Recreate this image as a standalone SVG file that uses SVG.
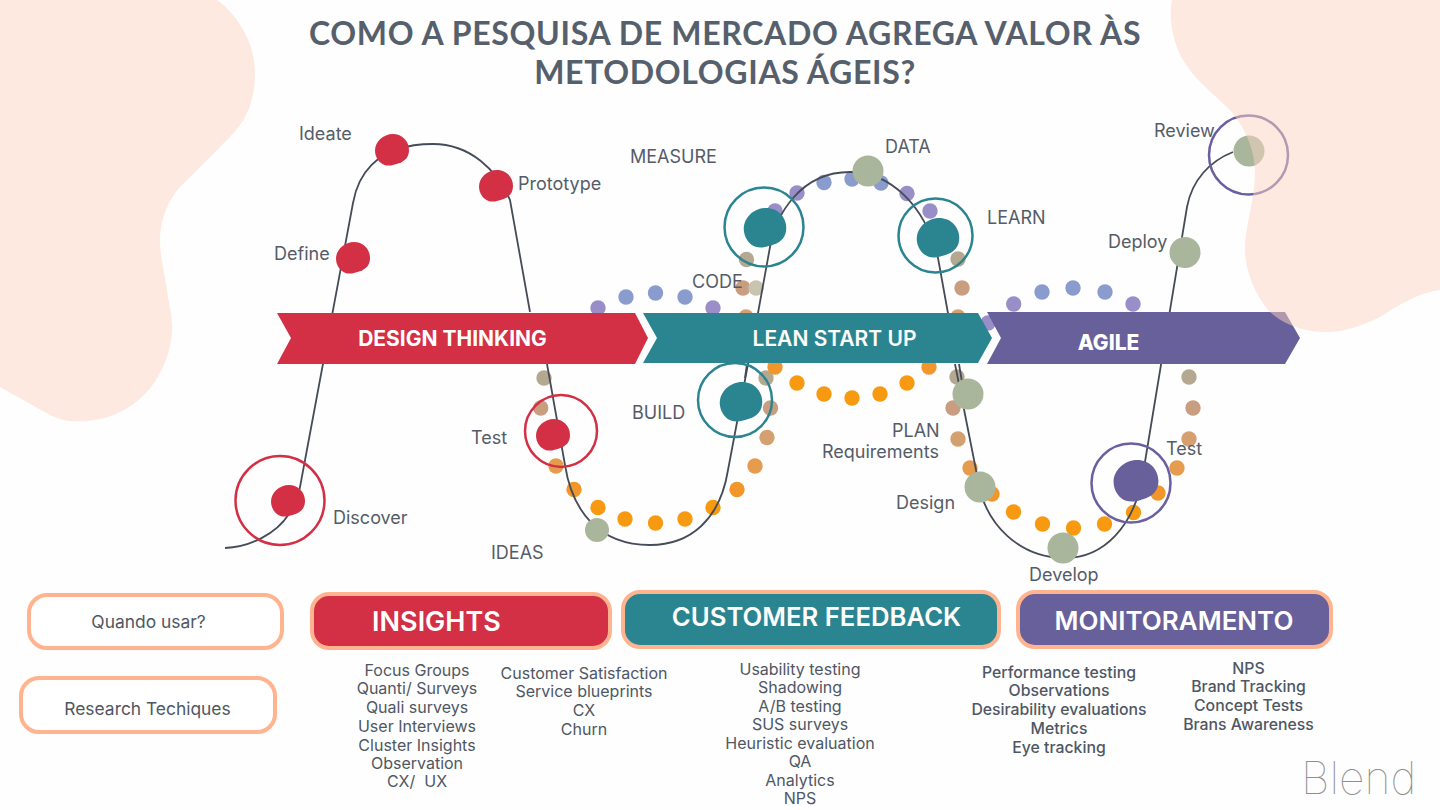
<svg xmlns="http://www.w3.org/2000/svg" width="1440" height="810" viewBox="0 0 1440 810">
<style>
.lb{font:400 18px Inter,"Liberation Sans",sans-serif;fill:#555c68}
.ls{font:400 16px Inter,"Liberation Sans",sans-serif;fill:#4f5763;text-anchor:middle}
.m5{font-weight:500;font-size:15.8px}
.ttl{font:700 32px Lato,"Liberation Sans",sans-serif;fill:#56606c;text-anchor:middle;letter-spacing:.67px}
.ar{font:700 21px Inter,"Liberation Sans",sans-serif;fill:#fff;text-anchor:middle}
.bt{font:600 26px Inter,"Liberation Sans",sans-serif;fill:#fff;text-anchor:middle}
.box{stroke:#ffb48f;stroke-width:4}
.red{fill:#d32f45}.teal{fill:#2b8590}.pur{fill:#67609b}.grn{fill:#a9b69c}
.ring{fill:none;stroke-width:2.5}
.curve{fill:none;stroke:#454c58;stroke-width:1.8}
.d1{fill:#f79a12}.d2{fill:#f0962a}.d3{fill:#e59c4f}.d4{fill:#d4a070}.d5{fill:#c99e80}.d6{fill:#b5a890}.d7{fill:#8a9bcd}.d8{fill:#9a8ec8}.d9{fill:#c8c4b0}
.blob{fill:#fbd3c1;fill-opacity:.5}
</style>
<defs>
<path id="blb" d="M1,-16C10,-16 17,-9 17,0C17,7 13,11 7.5,13C2,15 -3,16.5 -7.5,15C-13,13 -17,7 -17,0.5C-17,-8 -9,-16 1,-16Z"/>
<circle id="dot" r="7.7"/>
</defs>
<rect width="1440" height="810" fill="#fefefe"/>
<path class="blob" d="M0,0H217C240,17 255,45 255,73C255,95 249,113 240,125C232,135 227,140 220,147L180,187C168,200 160,220 160,240C160,258 165,275 167,290C169,305 172,315 172,327C172,345 167,360 160,373C150,392 135,405 120,412C105,420 85,422 70,421C60,420 50,415 43,411L0,387Z"/>
<g id="dots">
<use href="#dot" class="d3" x="556" y="466"/><use href="#dot" class="d2" x="574" y="489.5"/><use href="#dot" class="d1" x="598" y="507.5"/><use href="#dot" class="d1" x="625" y="519"/><use href="#dot" class="d1" x="655.5" y="523"/><use href="#dot" class="d1" x="685" y="519"/><use href="#dot" class="d1" x="713" y="507.5"/><use href="#dot" class="d2" x="737" y="489.5"/><use href="#dot" class="d3" x="755" y="466"/><use href="#dot" class="d4" x="767" y="437.5"/><use href="#dot" class="d5" x="770.5" y="408"/><use href="#dot" class="d6" x="766" y="378"/>
<use href="#dot" class="d6" x="544" y="378"/><use href="#dot" class="d5" x="540.7" y="408"/>
<use href="#dot" class="d2" x="775" y="367"/><use href="#dot" class="d1" x="797" y="383"/><use href="#dot" class="d1" x="824" y="394"/><use href="#dot" class="d1" x="852" y="398"/><use href="#dot" class="d1" x="880" y="394"/><use href="#dot" class="d1" x="907" y="383"/><use href="#dot" class="d2" x="929" y="367"/>
<use href="#dot" class="d6" x="957" y="377"/><use href="#dot" class="d5" x="953" y="408"/><use href="#dot" class="d4" x="958" y="439"/><use href="#dot" class="d3" x="970" y="468"/><use href="#dot" class="d2" x="992" y="494"/><use href="#dot" class="d1" x="1013.5" y="512"/><use href="#dot" class="d1" x="1042.5" y="524"/><use href="#dot" class="d1" x="1073.5" y="528"/><use href="#dot" class="d1" x="1104.5" y="524"/><use href="#dot" class="d1" x="1133.5" y="512.5"/><use href="#dot" class="d2" x="1158" y="493"/><use href="#dot" class="d3" x="1177" y="468"/><use href="#dot" class="d4" x="1189" y="439"/><use href="#dot" class="d5" x="1193" y="408"/><use href="#dot" class="d6" x="1189" y="377"/>
<use href="#dot" class="d6" x="746.5" y="259.5"/><use href="#dot" class="d5" x="743" y="288"/><use href="#dot" class="d9" x="756" y="288"/><use href="#dot" class="d4" x="746" y="317"/>
<use href="#dot" class="d6" x="958" y="259"/><use href="#dot" class="d5" x="962" y="288"/><use href="#dot" class="d4" x="958" y="317"/>
<use href="#dot" class="d8" x="598" y="308"/><use href="#dot" class="d7" x="626" y="297"/><use href="#dot" class="d7" x="655.5" y="293"/><use href="#dot" class="d7" x="685" y="297"/><use href="#dot" class="d8" x="713" y="308"/>
<use href="#dot" class="d8" x="775" y="211"/><use href="#dot" class="d8" x="797" y="193"/><use href="#dot" class="d7" x="824" y="182.5"/><use href="#dot" class="d7" x="852" y="179"/><use href="#dot" class="d7" x="881" y="183"/><use href="#dot" class="d8" x="907" y="193.5"/><use href="#dot" class="d8" x="930" y="211"/>
<use href="#dot" class="d8" x="988" y="323"/><use href="#dot" class="d8" x="1013.7" y="304"/><use href="#dot" class="d7" x="1042" y="292"/><use href="#dot" class="d7" x="1073" y="288"/><use href="#dot" class="d7" x="1105" y="292"/><use href="#dot" class="d8" x="1133" y="304"/>
</g>
<g id="connectors">
<path class="curve" d="M225,548C250,547 276,534 289,514C295,505 298,497 300,487L353,203C357,180 372,144 433,144C470,144 497,170 510,200L530,312"/>
<path class="curve" d="M547,364L565,465C572,510 598,545 650,545C690,545 720,520 728,470L748,364L758,313L770,247C776,215 800,172 850,172C890,172 925,205 938,258L957,363"/>
<path class="curve" d="M955,364L978,480C985,525 1020,558 1065,558C1105,558 1133,525 1142,480L1187,207C1192,180 1210,161 1233,152"/>
<path class="curve" d="M959,364L962,382"/>
<path class="curve" stroke-width="3" d="M747,364L745,378"/>
</g>
<g id="arrow-design-thinking"><polygon class="red" points="277,313 635,313 648,338 635,364 277,364 291,338"/><text class="ar" x="452.5" y="346">DESIGN THINKING</text></g>
<g id="arrow-lean-start-up"><polygon class="teal" points="643,313 978,313 992,338 978,363 643,363 657,338"/><text class="ar" x="834.5" y="346" style="font-weight:600">LEAN START UP</text></g>
<g id="arrow-agile"><polygon class="pur" points="987,312 1285,312 1300,338 1285,364 987,364 1001,338"/><text class="ar" x="1108.5" y="350" style="font-weight:800">AGILE</text></g>
<g id="title"><text class="ttl" x="725" y="45">COMO A PESQUISA DE MERCADO AGREGA VALOR ÀS</text><text class="ttl" x="725" y="84">METODOLOGIAS ÁGEIS?</text></g>
<g id="discover"><circle class="ring" stroke="#d32f45" cx="280" cy="500.5" r="44.5"/><use href="#blb" class="red" x="288" y="501"/><text class="lb" x="333" y="524">Discover</text></g>
<g id="define"><use href="#blb" class="red" x="353" y="258"/><text class="lb" x="274" y="260">Define</text></g>
<g id="ideate"><use href="#blb" class="red" x="392" y="150"/><text class="lb" x="299" y="140">Ideate</text></g>
<g id="prototype"><use href="#blb" class="red" x="496" y="186"/><text class="lb" x="518" y="190">Prototype</text></g>
<g id="test-dt"><circle class="ring" stroke="#d32f45" cx="561" cy="431" r="36"/><use href="#blb" class="red" x="553" y="435"/><text class="lb" x="471" y="444">Test</text></g>
<g id="ideas"><circle class="grn" cx="597" cy="530" r="12"/><text class="lb" x="491" y="559">IDEAS</text></g>
<g id="build"><circle class="ring" stroke="#2b8590" cx="735" cy="400" r="37"/><use href="#blb" class="teal" transform="translate(741,402) scale(1.25)"/><text class="lb" x="632" y="419">BUILD</text></g>
<g id="code"><text class="lb" x="692" y="288">CODE</text></g>
<g id="measure"><circle class="ring" stroke="#2b8590" cx="764" cy="227" r="39.5"/><use href="#blb" class="teal" transform="translate(765,228) scale(1.25)"/><text class="lb" x="630" y="163">MEASURE</text></g>
<g id="data"><circle class="grn" cx="868" cy="171" r="15.5"/><text class="lb" x="885" y="153">DATA</text></g>
<g id="learn"><circle class="ring" stroke="#2b8590" cx="935.5" cy="235.5" r="37"/><use href="#blb" class="teal" transform="translate(938,238) scale(1.25)"/><text class="lb" x="987" y="224">LEARN</text></g>
<g id="plan"><circle class="grn" cx="968" cy="394" r="15.5"/><text class="lb" x="892" y="437">PLAN</text><text class="lb" x="822" y="458">Requirements</text></g>
<g id="design"><circle class="grn" cx="980" cy="487" r="15.5"/><text class="lb" x="896" y="509">Design</text></g>
<g id="develop"><circle class="grn" cx="1063" cy="548" r="15.5"/><text class="lb" x="1029" y="581">Develop</text></g>
<g id="test-agile"><circle class="ring" stroke="#6a5fa0" cx="1131" cy="483" r="39.5"/><use href="#blb" class="pur" transform="translate(1136,481) scale(1.32)"/><text class="lb" x="1166" y="455">Test</text></g>
<g id="deploy"><circle class="grn" cx="1185" cy="252.5" r="15.5"/><text class="lb" x="1108" y="248">Deploy</text></g>
<g id="review"><circle class="ring" stroke="#6a5fa0" cx="1248.5" cy="155" r="39.5"/><circle class="grn" cx="1249" cy="151" r="15.5"/><text class="lb" x="1154" y="137">Review</text></g>
<path class="blob" d="M1172,0H1440V290C1420,292 1400,304 1380,317C1360,327 1340,333 1323,332C1300,331 1282,323 1270,312C1255,295 1245,270 1245,250C1245,225 1255,200 1255,173C1255,150 1245,127 1230,110C1215,95 1195,80 1183,60C1174,45 1168,20 1172,0Z"/>
<g id="quando"><rect class="box" x="29" y="595" width="253" height="53" rx="18" fill="#fff"/><text x="148.5" y="627.5" class="ls" style="font-size:17.4px">Quando usar?</text></g>
<g id="research"><rect class="box" x="21" y="678" width="254" height="54" rx="18" fill="#fff"/><text x="147.5" y="714.5" class="ls" style="font-size:17.4px">Research Techiques</text></g>
<g id="insights"><rect class="box red" x="312" y="594" width="298" height="54" rx="17"/><text class="bt" x="436.5" y="631" style="font-size:27px">INSIGHTS</text></g>
<g id="feedback"><rect class="box teal" x="623" y="592" width="376" height="55" rx="17"/><text class="bt" x="816.5" y="626" style="font-size:25.7px">CUSTOMER FEEDBACK</text></g>
<g id="monitoramento"><rect class="box pur" x="1018" y="592" width="313" height="55" rx="17"/><text class="bt" x="1174" y="630">MONITORAMENTO</text></g>
<g id="list-insights-1"><text class="ls" x="417" y="676">Focus Groups</text><text class="ls" x="417" y="694">Quanti/ Surveys</text><text class="ls" x="417" y="713">Quali surveys</text><text class="ls" x="417" y="732">User Interviews</text><text class="ls" x="417" y="751">Cluster Insights</text><text class="ls" x="417" y="768.5">Observation</text><text class="ls" x="417" y="787" xml:space="preserve">CX/  UX</text></g>
<g id="list-insights-2"><text class="ls" x="584" y="679">Customer Satisfaction</text><text class="ls" x="584" y="697">Service blueprints</text><text class="ls" x="584" y="716">CX</text><text class="ls" x="584" y="735">Churn</text></g>
<g id="list-feedback"><text class="ls" x="800" y="674.5">Usability testing</text><text class="ls" x="800" y="692.5">Shadowing</text><text class="ls" x="800" y="711.5">A/B testing</text><text class="ls" x="800" y="730">SUS surveys</text><text class="ls" x="800" y="749">Heuristic evaluation</text><text class="ls" x="800" y="767">QA</text><text class="ls" x="800" y="786">Analytics</text><text class="ls" x="800" y="804">NPS</text></g>
<g id="list-monitor-1"><text class="ls m5" x="1059" y="678">Performance testing</text><text class="ls m5" x="1059" y="696">Observations</text><text class="ls m5" x="1059" y="715">Desirability evaluations</text><text class="ls m5" x="1059" y="734">Metrics</text><text class="ls m5" x="1059" y="753">Eye tracking</text></g>
<g id="list-monitor-2"><text class="ls m5" x="1248.5" y="674">NPS</text><text class="ls m5" x="1248.5" y="692">Brand Tracking</text><text class="ls m5" x="1248.5" y="711">Concept Tests</text><text class="ls m5" x="1248.5" y="730">Brans Awareness</text></g>
<text x="1301" y="794" style="font:100 44.5px Inter,'Liberation Sans',sans-serif;fill:#8f8f8f">Blend</text>
</svg>
